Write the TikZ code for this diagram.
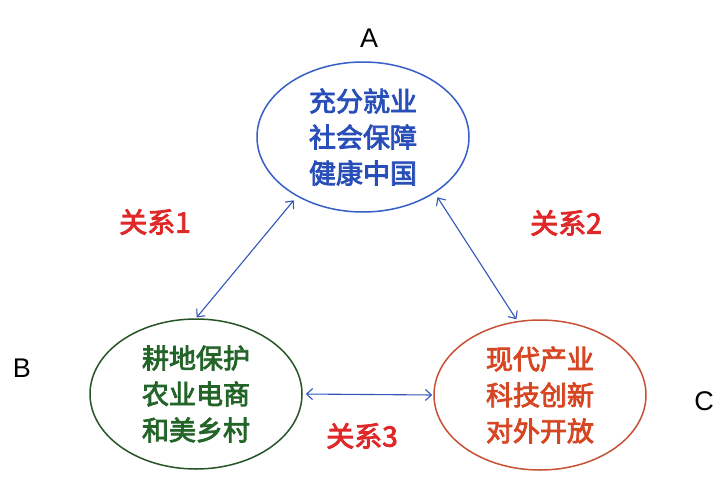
\documentclass[tikz,border=0pt]{standalone}
\usepackage{fontspec}
\setmainfont{Liberation Sans}
\newfontfamily\cjk{Noto Sans CJK SC}[RawFeature={embolden=3}]
\usetikzlibrary{shapes.geometric,arrows.meta}
\definecolor{ablue}{RGB}{40,78,185}
\definecolor{aline}{RGB}{55,95,200}
\definecolor{bgreen}{RGB}{35,100,40}
\definecolor{bline}{RGB}{40,85,40}
\definecolor{corange}{RGB}{215,70,35}
\definecolor{cline}{RGB}{200,80,55}
\definecolor{relred}{RGB}{225,40,40}
\definecolor{arrblue}{RGB}{50,85,185}
\tikzset{
  bubble/.style={ellipse, draw, line width=1.5pt, minimum width=212pt, minimum height=150pt, inner sep=0pt, align=center, font=\cjk\fontsize{27}{36}\selectfont},
  letter/.style={font=\fontsize{27}{30}\selectfont, text=black},
  rel/.style={font=\cjk\fontsize{28}{30}\selectfont, text=relred},
  link/.style={draw=arrblue, line width=1.1pt, {Straight Barb[length=6pt,width=11pt]}-{Straight Barb[length=6pt,width=11pt]}}
}
\begin{document}
\begin{tikzpicture}[x=1pt,y=-1pt]
\path[use as bounding box, fill=white] (0,0) rectangle (720,479);
\node[bubble, draw=aline, text=ablue] (A) at (363,137) {充分就业\\社会保障\\健康中国};
\node[bubble, draw=bline, text=bgreen] (B) at (196,394) {耕地保护\\农业电商\\和美乡村};
\node[bubble, draw=cline, text=corange] (C) at (540,395) {现代产业\\科技创新\\对外开放};
\node[letter] (la) at (369,38) {A};
\node[letter] (lb) at (22,368) {B};
\node[letter] (lc) at (704,401) {C};
\node[rel] (r1) at (155,222) {关系1};
\node[rel] (r2) at (566,223) {关系2};
\node[rel] (r3) at (362,436) {关系3};
\draw[link, shorten <=1pt, shorten >=5pt] (B.north) -- (A.222);
\draw[link, shorten <=5pt, shorten >=2pt] (A.322) -- (C.107);
\draw[link, shorten <=3pt, shorten >=1pt] (B.east) -- (C.west);
\end{tikzpicture}
\end{document}
